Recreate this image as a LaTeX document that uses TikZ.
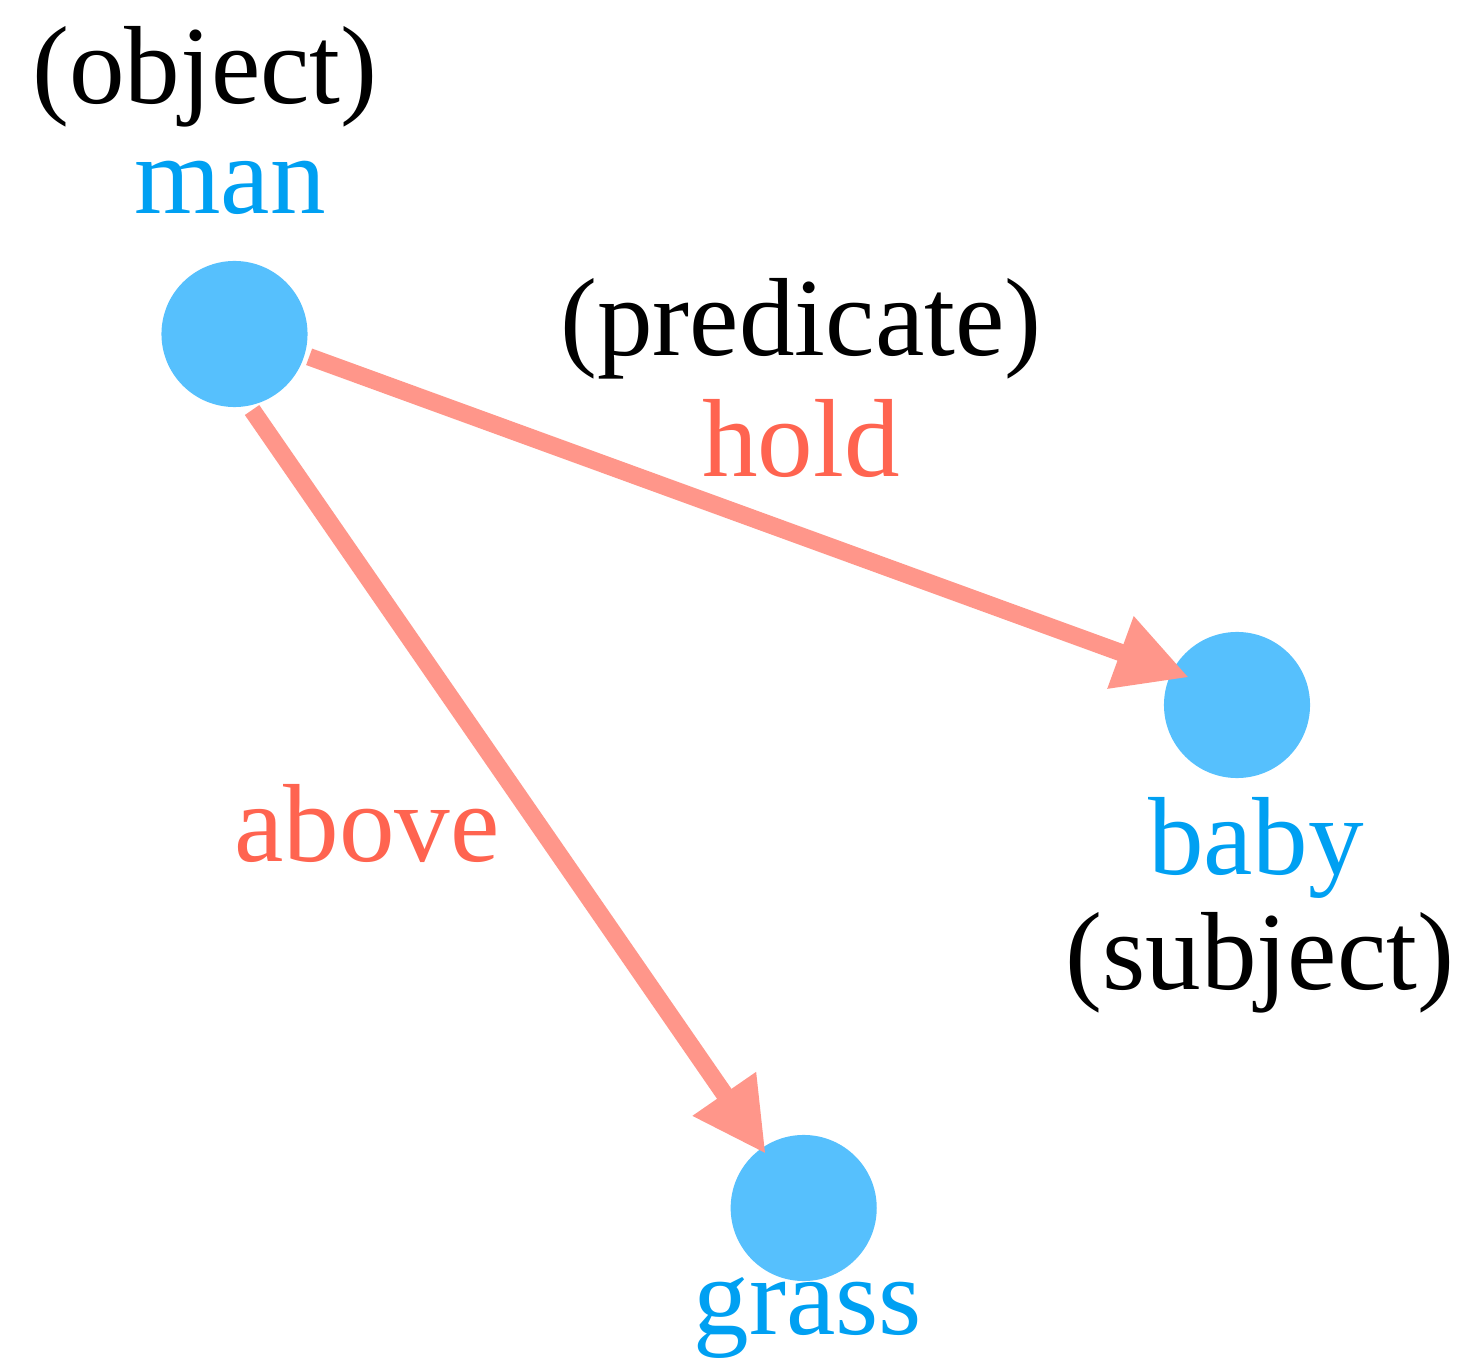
\documentclass[tikz,border=0pt]{standalone}
\usepackage{fontspec}
\setmainfont{Liberation Serif}
\usetikzlibrary{arrows.meta}
\definecolor{nodeblue}{HTML}{56C0FD}
\definecolor{textblue}{HTML}{00A0F2}
\definecolor{edgepink}{HTML}{FF968A}
\definecolor{edgetext}{HTML}{FF6450}
\begin{document}
\begin{tikzpicture}[x=0.01cm,y=-0.01cm,
  entity/.style={circle,fill=nodeblue,draw=none,minimum size=1.46cm,inner sep=0pt,outer sep=0.05cm},
  lbl/.style={anchor=base,inner sep=0pt,font=\fontsize{31.6}{38}\selectfont},
  rel/.style={draw=edgepink,line width=0.175cm,-{Triangle[length=0.73cm,width=0.72cm]}},
]
\useasboundingbox (0,0) rectangle (1466,1361);
\node[entity] (man) at (234.5,334) {};
\node[entity] (baby) at (1237,705) {};
\node[entity] (grass) at (803.7,1208) {};
\node[lbl] (objl) at (205,104) {(object)};
\node[lbl,text=textblue] (manl) at (230,214) {man};
\node[lbl] (predl) at (801,356) {(predicate)};
\node[lbl,text=edgetext] (holdl) at (801,477) {hold};
\node[lbl,text=edgetext] (abovel) at (367,861) {above};
\node[lbl,text=textblue] (babyl) at (1256,874) {baby};
\node[lbl] (subjl) at (1260,989) {(subject)};
\node[lbl,text=textblue] (grassl) at (808,1334) {grass};
\draw[rel,shorten >=-0.23cm] (man.-17) -- (baby.153.8);
\draw[rel,shorten >=-0.12cm] (man.-77.9) -- (grass.125.3);
\end{tikzpicture}
\end{document}
